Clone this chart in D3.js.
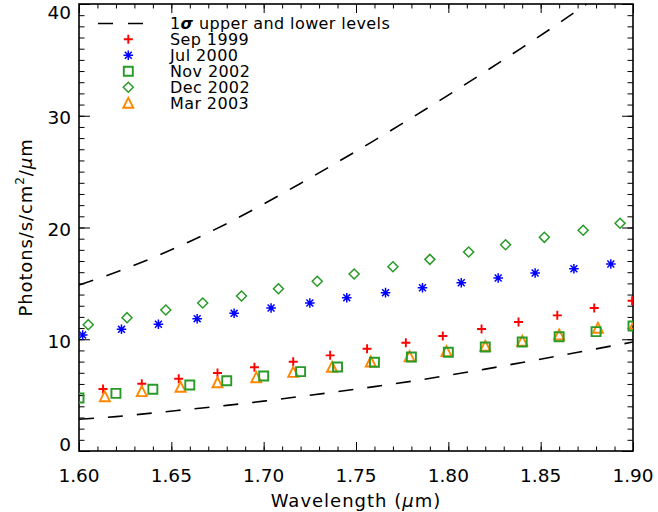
<!DOCTYPE html>
<html>
<head>
<meta charset="utf-8">
<script src="https://cdn.jsdelivr.net/npm/d3@7"></script>
<style>
  body { margin: 0; background: white; }
  svg text { font-family: "DejaVu Sans", sans-serif; fill: #000; }
</style>
</head>
<body>
<svg id="chart" width="658" height="512"></svg>
<script>
// values
var waveGrid   = [1.60, 1.62, 1.64, 1.66, 1.68, 1.70, 1.72, 1.74, 1.76, 1.78, 1.80, 1.82, 1.84, 1.86, 1.88, 1.90];
var upperLevel = [14.85, 16.0, 17.3, 18.75, 20.35, 22.1, 23.95, 25.85, 27.8, 29.8, 31.85, 33.95, 36.1, 38.3, 40.6, 43.0];
var lowerLevel = [2.84, 3.08, 3.40, 3.74, 4.08, 4.46, 4.88, 5.31, 5.76, 6.24, 6.77, 7.33, 7.92, 8.52, 9.14, 9.75];

var sep1999Wave = [1.613, 1.634, 1.654, 1.675, 1.695, 1.716, 1.736, 1.756, 1.777, 1.797, 1.818, 1.838, 1.859, 1.879, 1.8995];
var sep1999Flux = [5.55, 6.02, 6.47, 6.98, 7.49, 7.99, 8.56, 9.15, 9.69, 10.29, 10.92, 11.54, 12.14, 12.80, 13.45];

var jul2000Wave = [1.602, 1.623, 1.643, 1.664, 1.684, 1.704, 1.725, 1.745, 1.766, 1.786, 1.807, 1.827, 1.847, 1.868, 1.888];
var jul2000Flux = [10.38, 10.89, 11.34, 11.84, 12.32, 12.80, 13.24, 13.72, 14.17, 14.61, 15.06, 15.48, 15.93, 16.31, 16.73];

var nov2002Wave = [1.600, 1.620, 1.640, 1.660, 1.680, 1.700, 1.720, 1.740, 1.760, 1.780, 1.800, 1.820, 1.840, 1.860, 1.880, 1.900];
var nov2002Flux = [4.74, 5.16, 5.52, 5.91, 6.29, 6.71, 7.10, 7.52, 7.94, 8.41, 8.83, 9.31, 9.75, 10.23, 10.68, 11.19];

var dec2002Wave = [1.605, 1.626, 1.647, 1.667, 1.688, 1.708, 1.729, 1.749, 1.770, 1.790, 1.811, 1.831, 1.852, 1.873, 1.893];
var dec2002Flux = [11.30, 11.93, 12.62, 13.24, 13.87, 14.52, 15.19, 15.84, 16.49, 17.15, 17.81, 18.46, 19.12, 19.75, 20.38];

var mar2003Wave = [1.614, 1.634, 1.655, 1.675, 1.696, 1.716, 1.737, 1.758, 1.779, 1.799, 1.820, 1.840, 1.860, 1.881, 1.901];
var mar2003Flux = [4.86, 5.31, 5.70, 6.11, 6.56, 7.04, 7.49, 7.96, 8.44, 8.89, 9.37, 9.82, 10.38, 10.98, 11.35];

var xTicks = [1.60, 1.65, 1.70, 1.75, 1.80, 1.85, 1.90];
var yTicks = [0, 10, 20, 30, 40];

var series = [
    {"name": "Sep 1999", "sym": "plus",     "color": "#ff0000", "wave": sep1999Wave, "flux": sep1999Flux},
    {"name": "Jul 2000", "sym": "asterisk", "color": "#0000ff", "wave": jul2000Wave, "flux": jul2000Flux},
    {"name": "Nov 2002", "sym": "square",   "color": "#279a27", "wave": nov2002Wave, "flux": nov2002Flux},
    {"name": "Dec 2002", "sym": "diamond",  "color": "#279a27", "wave": dec2002Wave, "flux": dec2002Flux},
    {"name": "Mar 2003", "sym": "triangle", "color": "#ff8800", "wave": mar2003Wave, "flux": mar2003Flux}
];
// draw order in the plot: squares go over triangles
var drawOrder = [0, 1, 3, 4, 2];

// plot frame in pixels (note: "top" is taken by window.top)
var plotL = 79, plotT = 4, plotR = 633, plotB = 451;

var svg = d3.select("#chart");
var x = d3.scaleLinear().domain([1.60, 1.90]).range([plotL, plotR]);
var y = d3.scaleLinear().domain([0, 40]).range([plotB, plotT]);

svg.append("defs").append("clipPath").attr("id", "plotclip")
    .append("rect").attr("x", plotL).attr("y", plotT)
    .attr("width", plotR - plotL).attr("height", plotB - plotT);

function symbolPath(sym) {
    switch (sym) {
    case "plus":
	return "M-4.5,0H4.5M0,-4.5V4.5";
    case "asterisk":
	var r = 4.8, d = r * 0.72;
	return "M" + (-r) + ",0H" + r + "M0," + (-r) + "V" + r +
	    "M" + (-d) + "," + (-d) + "L" + d + "," + d +
	    "M" + (-d) + "," + d + "L" + d + "," + (-d);
    case "square":
	return "M-4.5,-4.5H4.5V4.5H-4.5Z";
    case "diamond":
	return "M0,-5L5,0L0,5L-5,0Z";
    case "triangle":
	return "M0,-5.5L5,4.5L-5,4.5Z";
    }
}

function symbolWidth(sym) {
    if (sym == "diamond") return 1.5;
    if (sym == "asterisk") return 1.5;
    return 1.9;
}

// minor and major ticks on all four sides, pointing inwards
function addAxis(axisFn, scale, values, size, transform) {
    var g = svg.append("g").attr("transform", transform)
	.call(axisFn(scale).tickValues(values).tickSize(size).tickFormat(""));
    g.select(".domain").remove();
    g.selectAll("line").attr("stroke", "#000").attr("stroke-width", 1);
    return g;
}

var xMinor = d3.range(0, 31).map(function(i) { return 1.60 + i * 0.01; });
var yMinor = d3.range(0, 41);

addAxis(d3.axisBottom, x, xMinor, -4.5, "translate(0," + plotB + ")");
addAxis(d3.axisBottom, x, xTicks, -9, "translate(0," + plotB + ")");
addAxis(d3.axisTop, x, xMinor, -4.5, "translate(0," + plotT + ")");
addAxis(d3.axisTop, x, xTicks, -9, "translate(0," + plotT + ")");
addAxis(d3.axisLeft, y, yMinor, -5.5, "translate(" + plotL + ",0)");
addAxis(d3.axisLeft, y, yTicks, -11, "translate(" + plotL + ",0)");
addAxis(d3.axisRight, y, yMinor, -5.5, "translate(" + plotR + ",0)");
addAxis(d3.axisRight, y, yTicks, -11, "translate(" + plotR + ",0)");

svg.append("rect").attr("x", plotL).attr("y", plotT)
    .attr("width", plotR - plotL).attr("height", plotB - plotT)
    .attr("fill", "none").attr("stroke", "#000").attr("stroke-width", 1.6);

// tick labels
svg.append("g").selectAll("text").data(xTicks).enter().append("text")
    .attr("x", function(d) { return x(d); })
    .attr("y", 482)
    .attr("text-anchor", "middle")
    .style("font-size", "18.5px")
    .text(function(d) { return d3.format(".2f")(d); });

svg.append("g").selectAll("text").data(yTicks).enter().append("text")
    .attr("x", 71)
    .attr("y", function(d) { return Math.max(12, Math.min(444, y(d) + 2)) + 6.7; })
    .attr("text-anchor", "end")
    .style("font-size", "18.5px")
    .text(function(d) { return d; });

// axis titles
var xt = svg.append("text").attr("x", (plotL + plotR) / 2).attr("y", 507)
    .attr("text-anchor", "middle").style("font-size", "18px").style("letter-spacing", "1px");
xt.append("tspan").text("Wavelength (");
xt.append("tspan").style("font-style", "italic").text("\u03bc");
xt.append("tspan").text("m)");

var yt = svg.append("text").attr("transform", "translate(32," + ((plotT + plotB) / 2) + ") rotate(-90)")
    .attr("text-anchor", "middle").style("font-size", "18px").style("letter-spacing", "0.9px");
yt.append("tspan").text("Photons/s/cm");
yt.append("tspan").attr("dy", -8).style("font-size", "12px").text("2");
yt.append("tspan").attr("dy", 8).text("/");
yt.append("tspan").style("font-style", "italic").text("\u03bc");
yt.append("tspan").text("m");

// 1 sigma levels
var plot = svg.append("g").attr("clip-path", "url(#plotclip)");
var level = d3.line()
    .x(function(d) { return x(d[0]); })
    .y(function(d) { return y(d[1]); })
    .curve(d3.curveMonotoneX);

[upperLevel, lowerLevel].forEach(function(vals) {
    plot.append("path")
	.attr("d", level(d3.zip(waveGrid, vals)))
	.attr("fill", "none").attr("stroke", "#000")
	.attr("stroke-width", 1.6).attr("stroke-dasharray", "15,14");
});

// points
drawOrder.forEach(function(i) {
    var s = series[i];
    plot.append("g").selectAll("path").data(d3.zip(s.wave, s.flux)).enter().append("path")
	.attr("transform", function(d) { return "translate(" + x(d[0]) + "," + y(d[1]) + ")"; })
	.attr("d", symbolPath(s.sym))
	.attr("fill", "none").attr("stroke", s.color)
	.attr("stroke-width", symbolWidth(s.sym));
});

// legend
var legend = svg.append("g");
legend.append("path").attr("d", "M98,23.5H144")
    .attr("stroke", "#000").attr("stroke-width", 1.6).attr("stroke-dasharray", "15,15");
var lt = legend.append("text").attr("x", 170).attr("y", 29.3)
    .style("font-size", "16px").style("letter-spacing", "0.4px");
lt.append("tspan").text("1");
lt.append("tspan").style("font-style", "italic").style("font-weight", "bold").text("\u03c3");
lt.append("tspan").text(" upper and lower levels");

series.forEach(function(s, i) {
    var cy = 39.3 + i * 16;
    legend.append("path")
	.attr("transform", "translate(128.3," + cy + ")")
	.attr("d", symbolPath(s.sym))
	.attr("fill", "none").attr("stroke", s.color)
	.attr("stroke-width", symbolWidth(s.sym));
    legend.append("text").attr("x", 170).attr("y", cy + 6)
	.style("font-size", "16px").style("letter-spacing", "0.4px")
	.text(s.name);
});
</script>
</body>
</html>
